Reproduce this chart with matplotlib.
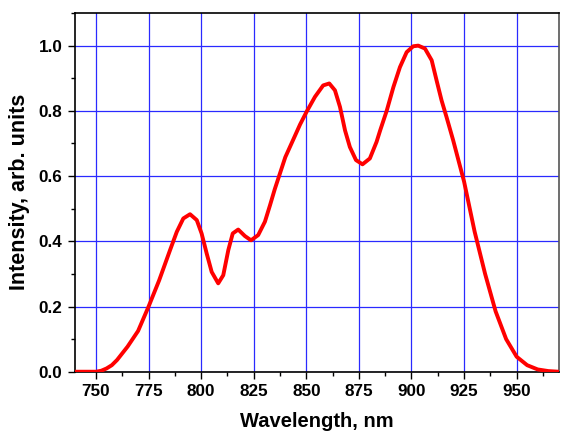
import matplotlib.pyplot as plt
from matplotlib.ticker import MultipleLocator

wavelength = [740, 745, 750, 752.5, 755, 757.5, 760, 765, 770, 775, 780, 785.2, 788.4,
              791.5, 794.7, 797.9, 800.2, 802.6, 805, 808.1, 810.5, 812.9, 815, 817.6,
              820.8, 823.7, 827.1, 830.3, 832.7, 835, 840, 844, 847, 850.1, 854.1, 858,
              860.9, 863.6, 866, 868.4, 870.7, 873.6, 876.7, 880.2, 883.4, 885.1, 888.2,
              891.4, 894.5, 897.7, 900.8, 903.2, 906.4, 909.6, 911.9, 914.3, 916.7, 919.8,
              925, 930, 935, 940, 945, 950, 955, 960, 965, 970]
intensity = [0.0, 0.0, 0.0, 0.003, 0.01, 0.02, 0.036, 0.077, 0.125, 0.2, 0.28, 0.373, 0.429,
             0.47, 0.483, 0.465, 0.424, 0.363, 0.306, 0.271, 0.296, 0.373, 0.424, 0.436,
             0.416, 0.403, 0.419, 0.46, 0.51, 0.56, 0.658, 0.715, 0.758, 0.797, 0.843, 0.878,
             0.884, 0.863, 0.812, 0.74, 0.689, 0.649, 0.636, 0.654, 0.705, 0.74, 0.80,
             0.873, 0.934, 0.98, 0.998, 1.0, 0.991, 0.955, 0.894, 0.832, 0.78, 0.71,
             0.583, 0.43, 0.30, 0.185, 0.10, 0.046, 0.02, 0.007, 0.002, 0.0]

plt.rcParams['font.family'] = ['Liberation Sans', 'DejaVu Sans']
plt.rcParams['font.weight'] = 'bold'

fig = plt.figure(figsize=(5.63, 4.34), dpi=100)
ax = fig.add_axes([0.1332, 0.1435, 0.8592, 0.8265])

ax.plot(wavelength, intensity, color='#ff0000', lw=2.8,
        solid_capstyle='round', solid_joinstyle='round', zorder=3)

ax.set_xlim(740, 970)
ax.set_ylim(0, 1.1)
ax.xaxis.set_major_locator(MultipleLocator(25))
ax.xaxis.set_minor_locator(MultipleLocator(12.5))
ax.yaxis.set_major_locator(MultipleLocator(0.2))
ax.yaxis.set_minor_locator(MultipleLocator(0.1))
ax.yaxis.set_major_formatter(lambda v, p: f'{v:.1f}')
ax.grid(True, which='major', color='#2a2aff', lw=0.9, zorder=1)

ax.tick_params(which='major', length=5, width=1, labelsize=12.3, direction='out', pad=4)
ax.tick_params(which='minor', length=3, width=1, direction='out')
for lab in ax.get_xticklabels() + ax.get_yticklabels():
    lab.set_fontweight('bold')

for side in ['left', 'bottom', 'top']:
    ax.spines[side].set_linewidth(1.2)
    ax.spines[side].set_color('black')
ax.spines['right'].set_linewidth(1.2)
ax.spines['right'].set_color('#555555')

ax.set_xlabel('Wavelength, nm', fontsize=14.5, fontweight='bold', labelpad=9)
ax.set_ylabel('Intensity, arb. units', fontsize=15.5, fontweight='bold', labelpad=6)

fig.savefig('out.png', dpi=100)
